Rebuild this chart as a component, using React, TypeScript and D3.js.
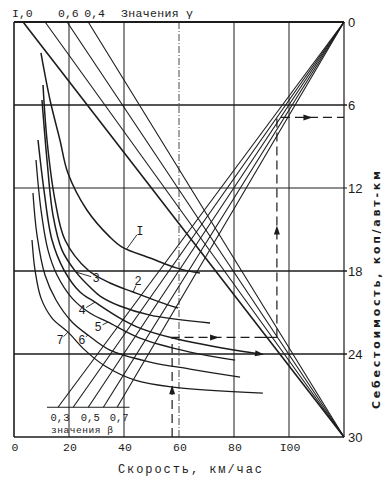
import React from 'react';
import * as d3 from 'd3';

// ---- axis data ----
const speedTicks = [0, 20, 40, 60, 80, 100];
const speedTickLabels = ['0', '20', '40', '60', '80', 'I00'];
const costTicks = [0, 6, 12, 18, 24, 30];
const gridSpeeds = [20, 40, 60, 80, 100];
const gridCosts = [6, 12, 18, 24];

// ---- gamma fan (top) : lines from top edge to (120, 30) ----
const gammaValues = [1.0, 0.8, 0.6, 0.4];
const gammaTopSpeeds = [3.3, 11.3, 19.3, 27];
const gammaLabels = ['I,0', '', '0,6', '0,4'];

// ---- beta fan (bottom) : lines from beta baseline to (120, 0) ----
const betaValues = [0.3, 0.4, 0.5, 0.6, 0.7];
const betaBaseSpeeds = [16, 21.5, 27, 32.5, 37.5];
const betaLabels = ['0,3', '', '0,5', '', '0,7'];
const betaBaseCost = 27.85;

// ---- cost curves (speed, cost) ----
const curveI: [number, number][] = [[9.8, 2.24], [13.1, 5.64], [16.7, 8.53], [19.6, 10.92], [26.5, 13.59], [34.9, 15.55], [39.3, 16.27], [49.5, 17.06], [59.3, 17.79], [67.6, 18.15]];
const curve2: [number, number][] = [[10.55, 4.56], [12.0, 8.53], [14.9, 12.87], [18.55, 15.76], [26.9, 17.93], [34.9, 18.87], [43.3, 19.52], [53.1, 20.25], [59.6, 20.68]];
const curve3: [number, number][] = [[10.18, 5.64], [12.0, 9.98], [14.18, 13.96], [17.45, 16.49], [22.55, 18.08], [27.6, 19.16], [31.3, 19.81], [38.5, 20.53], [49.5, 21.19], [71.3, 21.76]];
const curve4: [number, number][] = [[8.73, 8.53], [10.9, 12.15], [13.82, 15.76], [18.18, 17.93], [24.0, 19.52], [29.45, 20.25], [38.5, 21.4], [45.8, 22.13], [57.8, 22.85], [82.2, 23.79], [90.2, 24.01]];
const curve5: [number, number][] = [[8.0, 9.98], [9.82, 13.59], [12.36, 16.49], [15.64, 18.29], [21.1, 19.96], [27.6, 21.04], [34.2, 21.69], [45.8, 22.85], [64.0, 23.86], [80.4, 24.44]];
const curve6: [number, number][] = [[6.9, 12.36], [8.36, 15.4], [11.27, 18.29], [15.27, 20.1], [21.1, 21.69], [26.9, 22.63], [34.9, 23.72], [49.5, 24.58], [64.0, 25.09], [82.2, 25.67]];
const curve7: [number, number][] = [[6.55, 15.76], [7.64, 17.93], [9.82, 19.96], [13.82, 21.4], [19.64, 22.42], [25.8, 23.72], [33.1, 24.87], [44.0, 25.89], [57.8, 26.39], [90.5, 26.83]];
const curves = [curveI, curve2, curve3, curve4, curve5, curve6, curve7];
const curveNames = ['I', '2', '3', '4', '5', '6', '7'];
const curveLabelSpeeds = [41, 43.3, 22.55, 29.45, 34.2, 26.9, 19.64];

// ---- worked example path (dashed with arrows) ----
const exampleSpeeds = [57.5, 57.5, 90.2, 95.6, 95.6, 120];
const exampleCosts = [30, 22.8, 22.8, 22.8, 6.9, 6.9];

const MONO = "'Liberation Mono', 'DejaVu Sans Mono', monospace";
const INK = '#1c1c1c';

function costAt(c: [number, number][], v: number) {
  for (let i = 1; i < c.length; i++) {
    if (v <= c[i][0]) {
      const t = (v - c[i - 1][0]) / (c[i][0] - c[i - 1][0]);
      return c[i - 1][1] + t * (c[i][1] - c[i - 1][1]);
    }
  }
  return c[c.length - 1][1];
}

export default function App() {
  const W = 391, H = 482;
  const x = d3.scaleLinear().domain([0, 120]).range([14, 344]);
  const y = d3.scaleLinear().domain([0, 30]).range([22, 437]);
  const smooth = d3.line<[number, number]>().x(d => x(d[0])).y(d => y(d[1])).curve(d3.curveCatmullRom.alpha(0.5));
  const straight = d3.line<[number, number]>().x(d => x(d[0])).y(d => y(d[1]));

  const arrow = (px: number, py: number, angle: number, key: string) => (
    <path key={key} d="M-7,-3 L2,0 L-7,3 Z" fill={INK} transform={`translate(${px},${py}) rotate(${angle})`} />
  );

  const labelOffsets: [number, number][] = [[13, -18], [5, -11], [20, 6], [-13, 8], [-10, 5], [-6, 5], [-8, 8]];
  const gammaLabelDx = [-11, 0, -9, -4];

  const ex = exampleSpeeds.map((s, i) => [s, exampleCosts[i]] as [number, number]);
  const exArrows: JSX.Element[] = [];
  for (let i = 1; i < ex.length; i++) {
    const [a, b] = [ex[i - 1], ex[i]];
    if (i === 3) continue;
    const mx = (x(a[0]) + x(b[0])) / 2, my = (y(a[1]) + y(b[1])) / 2;
    const ang = Math.atan2(y(b[1]) - y(a[1]), x(b[0]) - x(a[0])) * 180 / Math.PI;
    exArrows.push(arrow(mx, my, ang, 'ea' + i));
  }

  const c4 = curve4;
  const c4a = c4[c4.length - 2], c4b = c4[c4.length - 1];
  const c4ang = Math.atan2(y(c4b[1]) - y(c4a[1]), x(c4b[0]) - x(c4a[0])) * 180 / Math.PI;

  return (
    <svg width={W} height={H} style={{ position: 'absolute', left: 0, top: 0, background: '#fff' }}>
      {/* grid */}
      {gridSpeeds.map(s => (
        <line key={'gv' + s} x1={x(s)} x2={x(s)} y1={y(0)} y2={y(30)} stroke={INK}
          strokeWidth={s === 60 ? 0.8 : 1} strokeDasharray={s === 60 ? '7,2,1,2' : undefined} />
      ))}
      {gridCosts.map(c => (
        <line key={'gh' + c} x1={x(0)} x2={x(120) + 3} y1={y(c)} y2={y(c)} stroke={INK}
          strokeWidth={c === 12 ? 1 : 1.5} />
      ))}
      {/* frame */}
      <line x1={x(0)} x2={x(120)} y1={y(0)} y2={y(0)} stroke={INK} strokeWidth={2} />
      <line x1={x(0)} x2={x(120)} y1={y(30)} y2={y(30)} stroke={INK} strokeWidth={1.6} />
      <line x1={x(0)} x2={x(0)} y1={y(0)} y2={y(30)} stroke={INK} strokeWidth={1.6} />
      <line x1={x(120)} x2={x(120)} y1={y(0)} y2={y(30)} stroke={INK} strokeWidth={1.2} />

      {/* gamma lines */}
      {gammaTopSpeeds.map((s, i) => (
        <path key={'g' + i} d={straight([[s, 0], [120, 30]]) || ''} fill="none" stroke={INK}
          strokeWidth={gammaValues[i] === 1.0 ? 1.6 : 1.1} />
      ))}
      {/* beta lines */}
      {betaBaseSpeeds.map((s, i) => (
        <path key={'b' + i} d={straight([[s, betaBaseCost], [120, 0]]) || ''} fill="none" stroke={INK} strokeWidth={1.1} />
      ))}
      <line x1={x(12)} x2={x(42)} y1={y(betaBaseCost)} y2={y(betaBaseCost)} stroke={INK} strokeWidth={1} />

      {/* cost curves */}
      {curves.map((c, i) => (
        <path key={'c' + i} d={smooth(c) || ''} fill="none" stroke={INK} strokeWidth={i >= 4 ? 1.3 : 1.5} />
      ))}
      {arrow(x(c4b[0]), y(c4b[1]), c4ang, 'c4arrow')}

      {/* curve labels */}
      {curves.map((c, i) => {
        const v = curveLabelSpeeds[i];
        const ax = x(v), ay = y(costAt(c, v));
        const [dx, dy] = labelOffsets[i];
        const lx = ax + dx, ly = ay + dy;
        const ux = dx / Math.hypot(dx, dy), uy = dy / Math.hypot(dx, dy);
        return (
          <g key={'cl' + i}>
            <line x1={ax} y1={ay} x2={lx - ux * 5} y2={ly - uy * 5} stroke={INK} strokeWidth={0.9} />
            <text x={lx} y={ly + 4} fontFamily={MONO} fontSize={12} textAnchor="middle" fill={INK}>{curveNames[i]}</text>
          </g>
        );
      })}

      {/* example path */}
      <path d={straight(ex.slice(0, 3)) || ''} fill="none" stroke={INK} strokeWidth={1.2} strokeDasharray="9,5" />
      <path d={straight(ex.slice(2, 4)) || ''} fill="none" stroke={INK} strokeWidth={1.2} />
      <path d={straight(ex.slice(3)) || ''} fill="none" stroke={INK} strokeWidth={1.2} strokeDasharray="9,5" />
      {exArrows}

      {/* bottom tick labels */}
      {speedTicks.map((s, i) => (
        <text key={'xt' + s} x={x(s) + 1} y={451} fontFamily={MONO} fontSize={11.5} textAnchor="middle" fill={INK}>{speedTickLabels[i]}</text>
      ))}
      {/* right tick labels */}
      {costTicks.map(c => (
        <text key={'yt' + c} x={348} y={y(c) + 5} fontFamily="'Liberation Sans', Arial, sans-serif" fontSize={13} fill={INK}>{c}</text>
      ))}

      {/* gamma labels */}
      {gammaTopSpeeds.map((s, i) => gammaLabels[i] ? (
        <text key={'gl' + i} x={x(s) + gammaLabelDx[i]} y={17} fontFamily={MONO} fontSize={11.5} fill={INK}>{gammaLabels[i]}</text>
      ) : null)}
      <text x={121} y={17} fontFamily={MONO} fontSize={11.5} fill={INK} textLength={72} lengthAdjust="spacing">Значения γ</text>

      {/* beta labels */}
      {betaBaseSpeeds.map((s, i) => betaLabels[i] ? (
        <text key={'bl' + i} x={x(s) + 2} y={421} fontFamily={MONO} fontSize={10.5} textAnchor="middle" fill={INK}>{betaLabels[i]}</text>
      ) : null)}
      <text x={51} y={433} fontFamily={MONO} fontSize={9.5} fill={INK} textLength={62} lengthAdjust="spacing">значения β</text>

      {/* axis titles */}
      <text x={118} y={473} fontFamily={MONO} fontSize={12} fill={INK} textLength={144} lengthAdjust="spacing">Скорость, км/час</text>
      <text transform="translate(380,409) rotate(-90)" x={0} y={0} fontFamily="'DejaVu Sans', sans-serif" fontWeight="bold" fontSize={11} fill={INK} textLength={238} lengthAdjust="spacing">Себестоимость, коп/авт-км</text>
    </svg>
  );
}
